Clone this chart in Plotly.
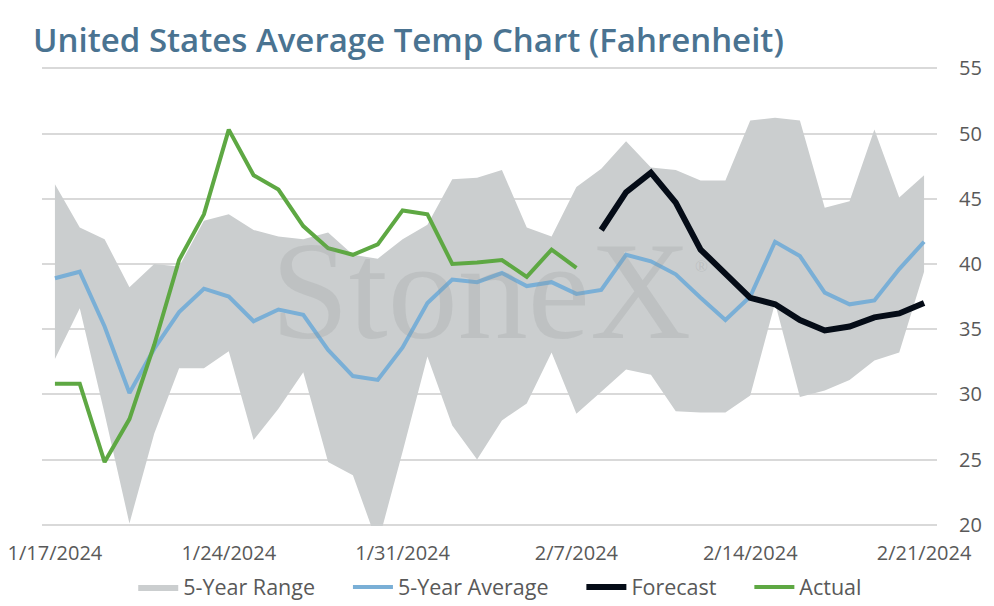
import pandas as pd
import plotly.graph_objects as go

dates = pd.date_range("2024-01-17", "2024-02-21", freq="D")

range_high = [46.1, 42.8, 41.9, 38.2, 40.0, 39.8, 43.3, 43.8, 42.6, 42.1,
              41.9, 42.4, 40.7, 40.4, 41.9, 43.0, 46.5, 46.6, 47.2, 42.8,
              42.1, 45.9, 47.3, 49.4, 47.4, 47.2, 46.4, 46.4, 51.0, 51.2,
              51.0, 44.3, 44.8, 50.3, 45.1, 46.8]
range_low = [32.7, 36.6, 28.5, 20.1, 27.0, 32.0, 32.0, 33.3, 26.5, 28.9,
             31.7, 24.8, 23.8, 18.5, 25.6, 32.9, 27.6, 25.0, 28.0, 29.3,
             33.2, 28.5, 30.2, 31.9, 31.5, 28.7, 28.6, 28.6, 29.9, 37.0,
             29.8, 30.3, 31.1, 32.6, 33.2, 39.4]
avg_5yr = [38.9, 39.4, 35.2, 30.1, 33.5, 36.3, 38.1, 37.5, 35.6, 36.5,
           36.1, 33.4, 31.4, 31.1, 33.6, 37.0, 38.8, 38.6, 39.3, 38.3,
           38.6, 37.7, 38.0, 40.7, 40.2, 39.2, 37.4, 35.7, 37.5, 41.7,
           40.6, 37.8, 36.9, 37.2, 39.6, 41.7]
actual = [30.8, 30.8, 24.8, 28.1, 33.8, 40.3, 43.8, 50.3, 46.8, 45.7,
          42.9, 41.2, 40.7, 41.5, 44.1, 43.8, 40.0, 40.1, 40.3, 39.0,
          41.1, 39.7]
forecast = [42.6, 45.5, 47.0, 44.7, 41.1, 39.2, 37.4, 36.9, 35.7, 34.9,
            35.2, 35.9, 36.2, 37.0]

font_name = "Open Sans"
pad = "\u00a0" * 5  # extra room between legend entries

fig = go.Figure()

fig.add_trace(go.Scatter(
    x=dates, y=range_low, mode="lines", line=dict(width=0, color="#cbcecf"),
    showlegend=False, hoverinfo="skip"
))
fig.add_trace(go.Scatter(
    x=dates, y=range_high, mode="lines", line=dict(width=0, color="#cbcecf"),
    fill="tonexty", fillcolor="#cbcecf", name="5-Year Range" + pad
))
fig.add_trace(go.Scatter(
    x=dates, y=avg_5yr, mode="lines", line=dict(width=4, color="#7aafd6"),
    name="5-Year Average" + pad
))
fig.add_trace(go.Scatter(
    x=dates[22:], y=forecast, mode="lines", line=dict(width=6, color="#050c17"),
    name="Forecast" + pad
))
fig.add_trace(go.Scatter(
    x=dates[:22], y=actual, mode="lines", line=dict(width=4, color="#5ea843"),
    name="Actual"
))

# watermark
fig.add_annotation(
    text="StoneX", xref="paper", yref="paper", x=0.49, y=0.512,
    showarrow=False,
    font=dict(family="Liberation Serif", size=140, color="rgba(140,145,145,0.2)")
)
fig.add_annotation(
    text="®", xref="paper", yref="paper", x=0.746, y=0.565,
    showarrow=False,
    font=dict(family="Liberation Serif", size=17, color="rgba(140,145,145,0.25)")
)

# the page body adds an 8px margin, so the figure is sized and placed for it
fig.update_layout(
    width=986, height=598,
    margin=dict(l=34, r=57, t=58.7, b=79.7, autoexpand=False),
    paper_bgcolor="white", plot_bgcolor="white",
    font=dict(family=font_name, size=20, color="#595959"),
    title=dict(
        text="United States Average Temp Chart (Fahrenheit)",
        x=0.0254, xanchor="left", y=0.9465, yanchor="middle",
        font=dict(family=font_name, size=33, weight=600, color="#4a7391")
    ),
    legend=dict(
        orientation="h", x=0.512, xanchor="center", y=-0.133, yanchor="middle",
        font=dict(size=21.5, color="#595959"), itemwidth=40,
        traceorder="normal"
    ),
    showlegend=True,
)

fig.update_xaxes(
    type="date",
    range=["2024-01-16 11:30", "2024-02-21 12:30"],
    tickvals=dates[::7], tickformat="%-m/%-d/%Y",
    showgrid=False, showline=False, zeroline=False, ticks="",
    ticklabelstandoff=13, ticklabeloverflow="allow"
)
fig.update_yaxes(
    range=[19.9, 55.1], dtick=5, tick0=20, side="right",
    showgrid=True, gridcolor="#d9d9d9", gridwidth=1.5,
    zeroline=False, showline=False, ticklabelstandoff=21
)

fig.write_html("out.html")
